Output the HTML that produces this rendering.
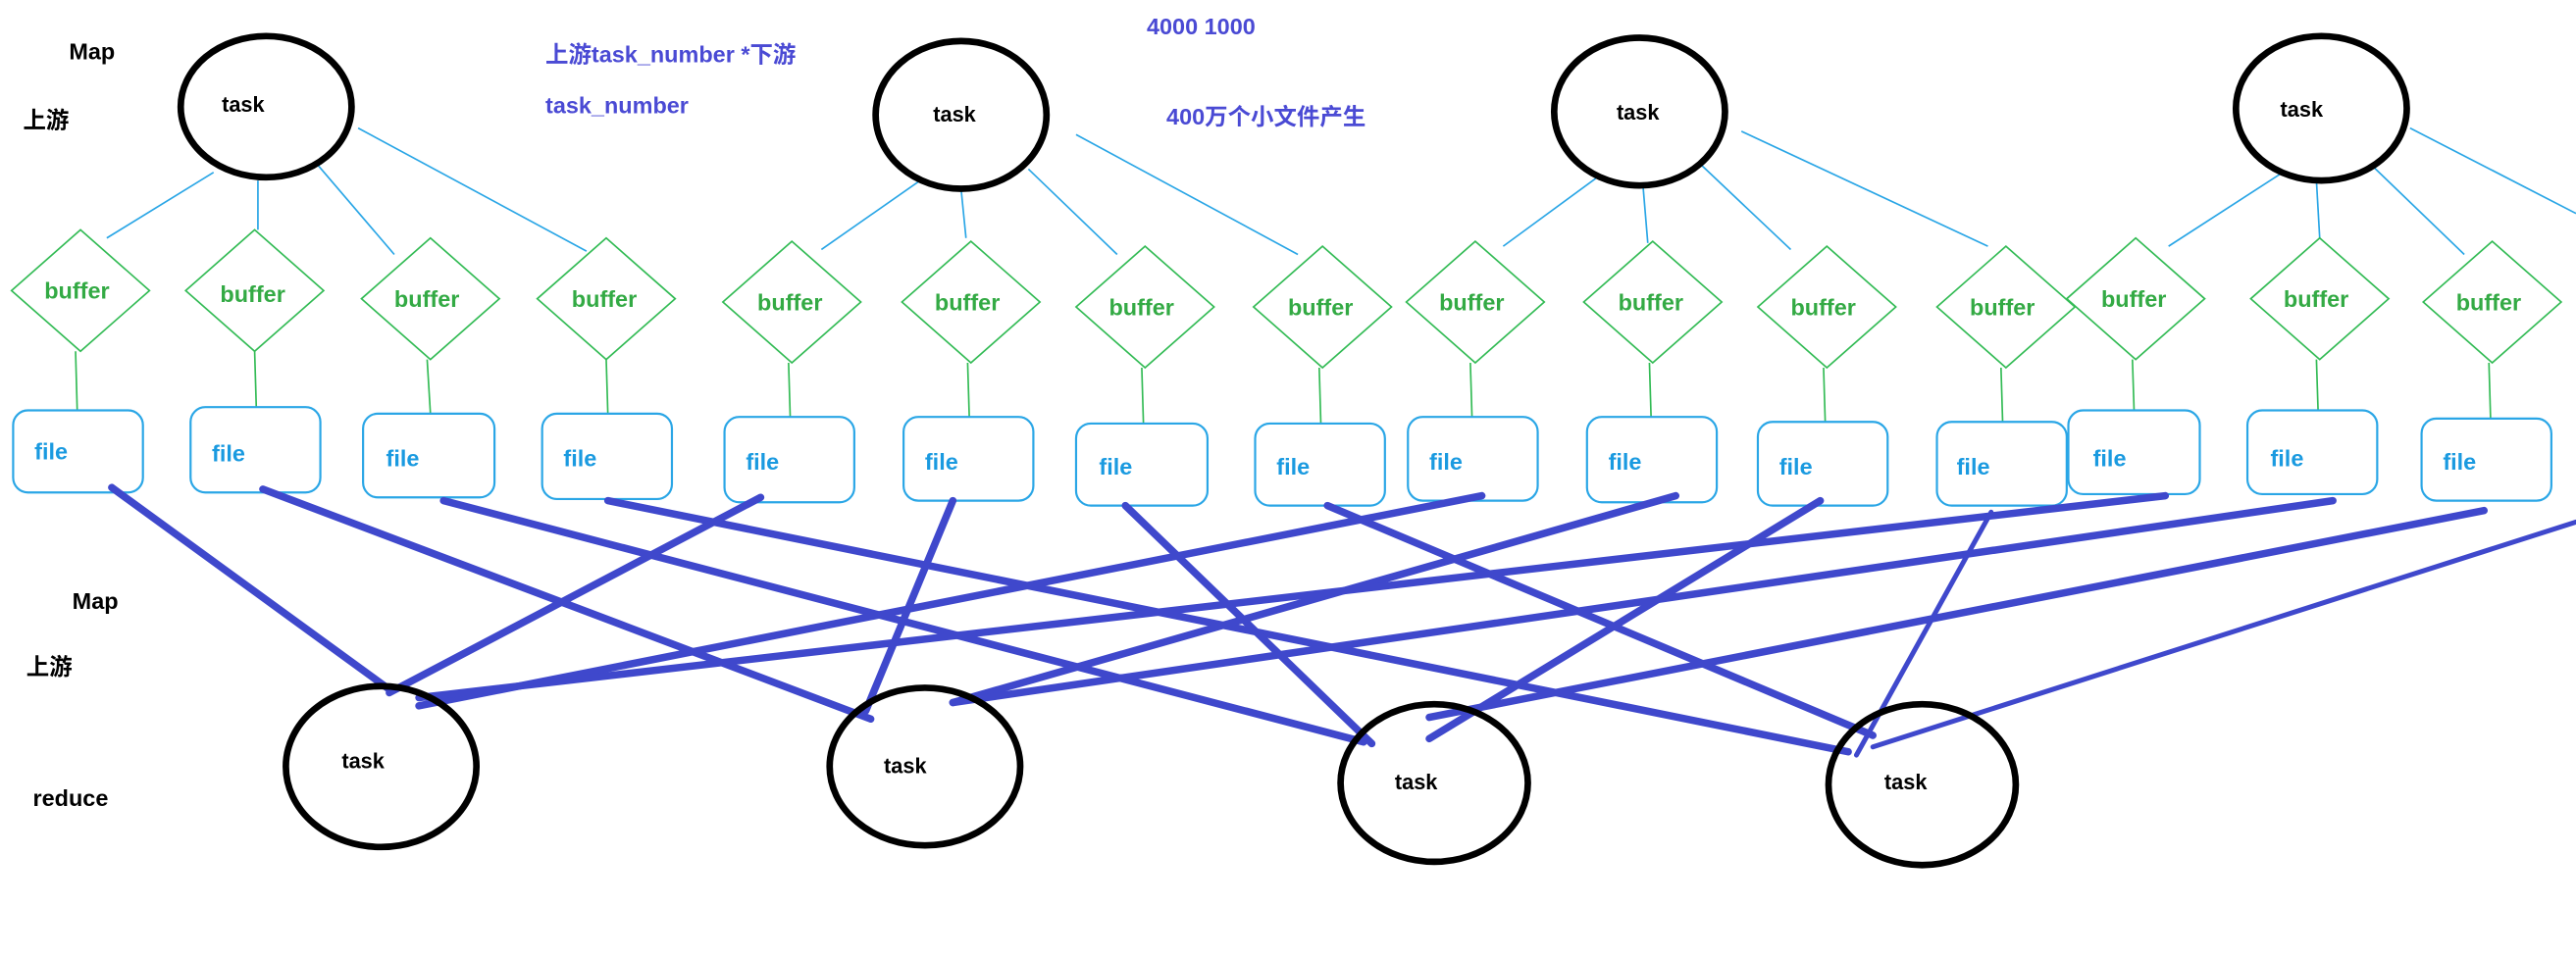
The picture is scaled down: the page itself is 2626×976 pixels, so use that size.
<!DOCTYPE html>
<html><head><meta charset="utf-8"><style>
html,body{margin:0;padding:0;background:#fff;}
svg{display:block;}
text{font-family:"Liberation Sans","Noto Sans CJK SC",sans-serif;font-weight:bold;}
</style></head><body>
<svg width="2626" height="976" viewBox="0 0 1568 583" preserveAspectRatio="none" xmlns="http://www.w3.org/2000/svg">
<rect width="1568" height="583" fill="#fff"/>
<g font-size="14" fill="#000">
<text x="42" y="36">Map</text>
<text x="14" y="78">上游</text>
<text x="44" y="371">Map</text>
<text x="16" y="411">上游</text>
<text x="20" y="491">reduce</text>
</g>
<g font-size="14" fill="#4a4ad4">
<text x="332" y="38">上游task_number *下游</text>
<text x="332" y="69">task_number</text>
<text x="698" y="21">4000   1000</text>
<text x="710" y="76">400万个小文件产生</text>
</g>
<!-- cyan lines -->
<g stroke="#2aa6e6" stroke-width="1">
<line x1="130" y1="105" x2="65" y2="145"/><line x1="157" y1="110" x2="157" y2="140"/><line x1="193" y1="100" x2="240" y2="155"/><line x1="218" y1="78" x2="357" y2="153"/>
<line x1="560" y1="110" x2="500" y2="152"/><line x1="585" y1="115" x2="588" y2="145"/><line x1="626" y1="103" x2="680" y2="155"/><line x1="655" y1="82" x2="790" y2="155"/>
<line x1="975" y1="106" x2="915" y2="150"/><line x1="1000" y1="112" x2="1003" y2="148"/><line x1="1035" y1="100" x2="1090" y2="152"/><line x1="1060" y1="80" x2="1210" y2="150"/>
<line x1="1388" y1="106" x2="1320" y2="150"/><line x1="1410" y1="110" x2="1412" y2="145"/><line x1="1445" y1="102" x2="1500" y2="155"/><line x1="1467" y1="78" x2="1568" y2="130"/>
</g>
<!-- top tasks -->
<g fill="#fff" stroke="#000" stroke-width="4">
<ellipse cx="162" cy="65" rx="52" ry="43"/><ellipse cx="585" cy="70" rx="52" ry="45"/><ellipse cx="998" cy="68" rx="52" ry="45"/><ellipse cx="1413" cy="66" rx="52" ry="44"/>
</g>
<g font-size="13" fill="#000">
<text x="135" y="68">task</text><text x="568" y="74">task</text><text x="984" y="73">task</text><text x="1388" y="71">task</text>
</g>
<!-- buffers + files -->
<g id="bf">
</g>
<g stroke="#33bb55" stroke-width="1" fill="#fff">
<path d="M49 140 L91 177 L49 214 L7 177Z"/><path d="M155 140 L197 177 L155 214 L113 177Z"/><path d="M262 145 L304 182 L262 219 L220 182Z"/><path d="M369 145 L411 182 L369 219 L327 182Z"/><path d="M482 147 L524 184 L482 221 L440 184Z"/><path d="M591 147 L633 184 L591 221 L549 184Z"/><path d="M697 150 L739 187 L697 224 L655 187Z"/><path d="M805 150 L847 187 L805 224 L763 187Z"/><path d="M898 147 L940 184 L898 221 L856 184Z"/><path d="M1006 147 L1048 184 L1006 221 L964 184Z"/><path d="M1112 150 L1154 187 L1112 224 L1070 187Z"/><path d="M1221 150 L1263 187 L1221 224 L1179 187Z"/><path d="M1300 145 L1342 182 L1300 219 L1258 182Z"/><path d="M1412 145 L1454 182 L1412 219 L1370 182Z"/><path d="M1517 147 L1559 184 L1517 221 L1475 184Z"/>
<line x1="46" y1="214" x2="47" y2="250"/><line x1="155" y1="214" x2="156" y2="248"/><line x1="260" y1="219" x2="262" y2="252"/><line x1="369" y1="219" x2="370" y2="252"/><line x1="480" y1="221" x2="481" y2="254"/><line x1="589" y1="221" x2="590" y2="254"/><line x1="695" y1="224" x2="696" y2="258"/><line x1="803" y1="224" x2="804" y2="258"/><line x1="895" y1="221" x2="896" y2="254"/><line x1="1004" y1="221" x2="1005" y2="254"/><line x1="1110" y1="224" x2="1111" y2="257"/><line x1="1218" y1="224" x2="1219" y2="257"/><line x1="1298" y1="219" x2="1299" y2="250"/><line x1="1410" y1="219" x2="1411" y2="250"/><line x1="1515" y1="221" x2="1516" y2="255"/>
</g>
<g font-size="14" fill="#33aa44">
<text x="27" y="182">buffer</text><text x="134" y="184">buffer</text><text x="240" y="187">buffer</text><text x="348" y="187">buffer</text><text x="461" y="189">buffer</text><text x="569" y="189">buffer</text><text x="675" y="192">buffer</text><text x="784" y="192">buffer</text><text x="876" y="189">buffer</text><text x="985" y="189">buffer</text><text x="1090" y="192">buffer</text><text x="1199" y="192">buffer</text><text x="1279" y="187">buffer</text><text x="1390" y="187">buffer</text><text x="1495" y="189">buffer</text>
</g>
<g stroke="#2aa6e6" stroke-width="1.3" fill="#fff">
<rect x="8" y="250" width="79" height="50" rx="9"/><rect x="116" y="248" width="79" height="52" rx="9"/><rect x="221" y="252" width="80" height="51" rx="9"/><rect x="330" y="252" width="79" height="52" rx="9"/><rect x="441" y="254" width="79" height="52" rx="9"/><rect x="550" y="254" width="79" height="51" rx="9"/><rect x="655" y="258" width="80" height="50" rx="9"/><rect x="764" y="258" width="79" height="50" rx="9"/><rect x="857" y="254" width="79" height="51" rx="9"/><rect x="966" y="254" width="79" height="52" rx="9"/><rect x="1070" y="257" width="79" height="51" rx="9"/><rect x="1179" y="257" width="79" height="51" rx="9"/><rect x="1259" y="250" width="80" height="51" rx="9"/><rect x="1368" y="250" width="79" height="51" rx="9"/><rect x="1474" y="255" width="79" height="50" rx="9"/>
</g>
<g font-size="14" fill="#1a9ae0">
<text x="21" y="280">file</text><text x="129" y="281">file</text><text x="235" y="284">file</text><text x="343" y="284">file</text><text x="454" y="286">file</text><text x="563" y="286">file</text><text x="669" y="289">file</text><text x="777" y="289">file</text><text x="870" y="286">file</text><text x="979" y="286">file</text><text x="1083" y="289">file</text><text x="1191" y="289">file</text><text x="1274" y="284">file</text><text x="1382" y="284">file</text><text x="1487" y="286">file</text>
</g>
<!-- thick blue lines -->
<g stroke="#3f48cc" stroke-width="4.5" stroke-linecap="round">
<line x1="68" y1="297" x2="237" y2="420"/>
<line x1="160" y1="298" x2="530" y2="438"/>
<line x1="270" y1="305" x2="830" y2="452"/>
<line x1="370" y1="305" x2="1125" y2="458"/>
<line x1="463" y1="303" x2="237" y2="422"/>
<line x1="580" y1="305" x2="527" y2="433"/>
<line x1="685" y1="308" x2="835" y2="453"/>
<line x1="808" y1="308" x2="1140" y2="448"/>
<line x1="902" y1="302" x2="255" y2="430"/>
<line x1="1020" y1="302" x2="580" y2="428"/>
<line x1="1108" y1="305" x2="870" y2="450"/>
<line x1="1318" y1="302" x2="255" y2="425"/>
<line x1="1420" y1="305" x2="580" y2="428"/>
<line x1="1512" y1="311" x2="870" y2="437"/>
</g>
<g stroke="#3f48cc" stroke-width="3" stroke-linecap="round">
<line x1="1212" y1="312" x2="1130" y2="460"/>
<line x1="1568" y1="318" x2="1140" y2="455"/>
</g>
<!-- reduce tasks -->
<g fill="none" stroke="#000" stroke-width="4">
<ellipse cx="232" cy="467" rx="58" ry="49"/><ellipse cx="563" cy="467" rx="58" ry="48"/><ellipse cx="873" cy="477" rx="57" ry="48"/><ellipse cx="1170" cy="478" rx="57" ry="49"/>
</g>
<g font-size="13" fill="#000">
<text x="208" y="468">task</text><text x="538" y="471">task</text><text x="849" y="481">task</text><text x="1147" y="481">task</text>
</g>
</svg>
</body></html>
